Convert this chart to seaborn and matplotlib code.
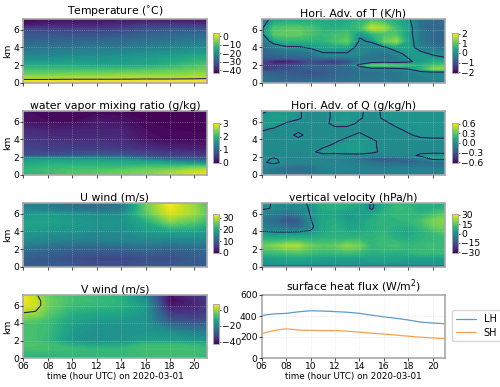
import matplotlib
matplotlib.use('Agg')
import matplotlib.pyplot as plt
from matplotlib.cm import ScalarMappable
from matplotlib.colors import Normalize
import numpy as np
import pandas as pd
import seaborn as sns

sns.set_style('ticks', {'text.color': 'black', 'axes.labelcolor': 'black',
                        'xtick.color': 'black', 'ytick.color': 'black'})
plt.rcParams['font.family'] = ['DejaVu Sans']

# hours for the coarse panels
hours_9 = [6, 8, 10, 12, 14, 16, 18, 20, 21]
hours_10 = [6, 7, 8, 10, 12, 14, 16, 18, 20, 21]
hours_16 = list(range(6, 22))

# temperature (deg C), one row per height
temp_z = [0, 0.35, 0.5, 1, 1.5, 2, 3, 4, 5, 6, 6.5, 7.2]
temp_vals = [
    [4, 4, 4, 4, 4, 4, 4, 4, 4],
    [1, 1, 1, 1, 1, 2, 2, 2, 2],
    [-2, -2, -1, -1, -1, -1, -1, -0.5, 0],
    [-7, -7, -6, -6, -5, -5, -5, -4, -4],
    [-10, -10, -10, -10, -10, -9, -8, -7, -6],
    [-15, -15, -15, -16, -16, -15, -13, -10, -9],
    [-21, -21, -20, -20, -19, -18, -17, -15, -15],
    [-26, -25, -25, -24, -24, -23, -22, -21, -20],
    [-29, -29, -29, -29, -28, -27, -26, -25, -25],
    [-33, -33, -34, -34, -33, -31, -30, -30, -31],
    [-40, -38, -38, -38, -37, -35, -35, -35, -36],
    [-43, -42, -42, -42, -41, -41, -41, -42, -42],
]

# water vapor mixing ratio (g/kg)
qv_z = [0, 0.5, 1, 1.5, 1.9, 2.2, 3, 4, 5, 6, 7.2]
qv_vals = [
    [1.9, 2.1, 2.2, 2.3, 2.4, 2.5, 2.7, 2.9, 3.0],
    [2.0, 2.1, 2.2, 2.2, 2.3, 2.4, 2.5, 2.7, 2.8],
    [1.9, 2.0, 2.0, 2.0, 2.0, 2.1, 2.1, 2.2, 2.2],
    [1.75, 1.8, 1.8, 1.8, 1.8, 1.75, 1.55, 1.3, 1.2],
    [1.5, 1.55, 1.55, 1.5, 1.4, 1.05, 0.8, 0.75, 0.75],
    [0.75, 0.75, 0.8, 0.85, 0.8, 0.7, 0.6, 0.55, 0.5],
    [0.6, 0.55, 0.55, 0.55, 0.5, 0.4, 0.3, 0.25, 0.25],
    [0.5, 0.45, 0.4, 0.4, 0.35, 0.15, 0.08, 0.08, 0.08],
    [0.4, 0.3, 0.3, 0.3, 0.3, 0.1, 0.05, 0.04, 0.04],
    [0.15, 0.1, 0.08, 0.2, 0.15, 0.05, 0.03, 0.02, 0.02],
    [0.1, 0.05, 0.05, 0.05, 0.04, 0.03, 0.02, 0.02, 0.02],
]

# U wind (m/s)
u_z = [0, 1, 2, 3, 4, 5, 6, 6.5, 7.2]
u_vals = [
    [9, 9, 9, 8, 8, 9, 9, 9, 10],
    [10, 9, 8, 7, 7, 8, 8, 9, 10],
    [12, 11, 10, 10, 10, 11, 10, 11, 11],
    [16, 15, 14, 14, 15, 15, 15, 15, 15],
    [18, 17, 17, 16, 16, 18, 19, 19, 18],
    [19, 19, 18, 17, 17, 20, 26, 24, 22],
    [17, 18, 17, 16, 16, 24, 31, 28, 25],
    [15, 14, 13, 12, 13, 25, 32, 28, 25],
    [14, 13, 12, 11, 13, 25, 33, 27, 24],
]

# V wind (m/s)
v_z = [0, 1, 1.5, 2, 3, 4, 5, 6, 6.5, 7.2]
v_vals = [
    [-12, -12, -12, -11, -10, -10, -9, -9, -9, -10],
    [-8, -8, -8, -9, -10, -10, -8, -8, -8, -9],
    [-7, -7, -8, -12, -14, -13, -9, -9, -10, -11],
    [-8, -8, -10, -17, -18, -17, -15, -15, -16, -17],
    [-8, -8, -9, -16, -18, -18, -17, -19, -22, -22],
    [-8, -8, -9, -15, -17, -17, -18, -28, -30, -29],
    [-1, -1.5, -6, -12, -14, -14, -17, -34, -35, -34],
    [5, 3, -4, -9, -10, -11, -16, -40, -38, -35],
    [6, 3, -4, -8, -9, -11, -18, -42, -38, -35],
    [6, 1, -5, -8, -10, -11, -22, -41, -36, -34],
]

# horizontal advection of T (K/h)
advt_z = [0, 1.2, 1.6, 2, 2.4, 2.8, 3.3, 4, 4.7, 5.5, 6.2, 7.2]
advt_vals = [
    [-0.4, -0.5, -0.6, -0.6, -0.6, -0.6, -0.5, -0.5, -0.4, -0.4, -0.4, -0.4, -0.3, -0.3, -0.3, -0.3],
    [-0.8, -0.9, -0.9, -1.0, -1.1, -1.0, -0.8, -0.7, -0.6, -0.6, -0.5, -0.5, -0.3, -0.2, -0.1, -0.1],
    [-1.4, -1.3, -1.1, -0.9, -0.8, -0.8, -0.7, -0.6, -0.4, -0.2, -0.2, -0.1, 0.02, 0.6, 1.3, 1.4],
    [-1.3, -1.3, -1.2, -1.1, -0.9, -1.0, -1.0, -0.7, 0.2, 1.0, 1.0, 0.9, 0.7, 0.5, 0.8, 0.9],
    [-1.3, -1.9, -2.0, -1.7, -1.2, -1.4, -1.5, -1.2, -0.6, -0.3, -0.2, -0.25, -0.1, 0.2, 0.5, 0.5],
    [-0.9, -0.9, -0.9, -0.8, -0.7, -0.6, -0.6, -0.5, -0.4, -0.5, -0.6, -0.5, 0.0, 0.2, 0.2, 0.05],
    [-0.8, -0.7, -0.6, -0.6, -0.5, -0.05, -0.05, -0.05, -0.1, -0.4, -0.5, -0.2, 0.2, 0.2, -0.1, -0.2],
    [-0.7, -0.4, -0.1, -0.1, 0.1, 0.25, 0.3, 0.3, -0.2, -0.2, -0.1, 0.3, 0.3, -0.3, -0.5, -0.6],
    [-0.5, 0.3, 0.6, 0.6, 0.6, 0.6, 0.9, 1.1, -0.05, 0.05, 1.1, 1.4, 0.3, -0.4, -0.7, -0.8],
    [-0.1, 1.0, 1.1, 1.1, 0.9, 0.7, 0.8, 0.9, 0.05, 0.6, 0.9, 0.9, 0.2, -0.4, -0.7, -0.8],
    [-0.1, 0.9, 1.0, 1.0, 0.9, 0.6, 0.5, 0.6, 0.8, 1.7, 1.5, 0.8, 0.3, -0.6, -0.7, -0.7],
    [-0.3, 0.2, 0.3, 0.3, 0.4, 0.4, 0.4, 0.4, 0.6, 0.8, 0.6, 0.4, 0.1, -0.6, -0.7, -0.7],
]

# horizontal advection of Q (g/kg/h)
advq_z = [0, 0.7, 1.4, 1.8, 2.2, 2.6, 3.2, 3.8, 4.5, 5.2, 5.8, 6.4, 7.2]
advq_vals = [
    [-0.1, -0.12, -0.14, -0.14, -0.12, -0.1, -0.08, -0.08, -0.08, -0.08, -0.08, -0.08, -0.08, -0.08, -0.08, -0.08],
    [-0.08, -0.13, -0.18, -0.2, -0.2, -0.1, -0.06, -0.06, -0.07, -0.08, -0.08, -0.08, -0.08, -0.08, -0.08, -0.08],
    [-0.02, 0.03, -0.04, -0.06, -0.06, -0.05, -0.06, -0.08, -0.12, -0.16, -0.2, -0.22, -0.22, -0.2, -0.2, -0.2],
    [-0.04, 0.02, -0.05, -0.05, -0.05, -0.05, -0.06, -0.08, -0.18, -0.28, -0.3, -0.28, -0.2, -0.12, 0.03, 0.04],
    [-0.04, -0.04, -0.04, -0.04, -0.04, -0.03, -0.05, -0.04, -0.04, -0.06, -0.06, -0.05, -0.05, 0.03, 0.05, 0.04],
    [-0.03, -0.03, -0.03, -0.03, -0.02, 0.03, 0.04, 0.05, 0.06, 0.03, -0.03, -0.03, -0.03, -0.03, -0.03, -0.03],
    [-0.03, -0.03, -0.03, -0.03, -0.02, -0.01, 0.02, 0.06, 0.07, 0.02, -0.03, -0.03, -0.03, -0.03, -0.03, -0.03],
    [-0.03, -0.03, -0.03, -0.03, -0.03, -0.02, -0.01, 0.03, 0.05, 0.02, -0.03, -0.03, -0.03, -0.03, -0.02, -0.02],
    [-0.03, -0.03, -0.03, 0.02, -0.03, -0.03, -0.03, -0.02, 0.02, -0.03, -0.03, -0.03, -0.01, 0.02, 0.02, 0.02],
    [0.02, -0.01, -0.02, -0.03, -0.03, -0.03, -0.02, -0.03, -0.03, -0.03, -0.03, -0.01, 0.02, 0.03, 0.03, 0.03],
    [0.06, 0.07, -0.01, -0.03, -0.03, -0.03, 0.03, 0.04, -0.02, -0.03, -0.02, 0.02, 0.03, 0.03, 0.03, 0.03],
    [0.05, 0.07, 0.06, 0.01, -0.03, -0.03, 0.02, 0.04, 0.01, -0.03, 0.01, 0.03, 0.03, 0.03, 0.03, 0.03],
    [-0.03, 0.03, 0.03, 0.01, -0.03, -0.03, 0.02, 0.03, 0.01, -0.02, 0.01, 0.03, 0.03, 0.03, 0.03, 0.03],
]

# vertical velocity (hPa/h)
omega_z = [0, 0.15, 1, 1.6, 2.4, 3.2, 3.9, 4.5, 5.2, 6, 6.6, 7.2]
omega_vals = [
    [-1.5, -1.5, -1.5, -1.5, -1.5, -1.5, -1.5, -1, -1, -1, -1, -1, -1, -1, -1, -1],
    [1, 1, 1, 1, 1, 1, 1, 1, 1, 1, 1, 1, 1, 1, 1, 1],
    [3, 4, 5, 6, 5, 4, 4, 4, 4, 5, 5, 5, 4, 4, 4, 4],
    [11, 11, 13, 14, 12, 10, 11, 12, 11, 8, 9, 8, 9, 11, 11, 11],
    [17, 19, 23, 23, 17, 15, 16, 20, 18, 10, 11, 13, 10, 11, 12, 10],
    [8, 7, 8, 9, 8, 9, 9, 9, 10, 9, 11, 8, 7, 9, 10, 11],
    [1, 0.5, 0.5, 1, 1, 6, 8, 7, 7, 8, 9, 6, 4, 8, 11, 14],
    [-4, -6, -9, -10, -2, 6, 8, 5, 5, 8, 9, 8, 7, 11, 16, 18],
    [-6, -10, -16, -13, -0.5, 6, 7, 3, 4, 8, 9, 9, 10, 13, 18, 20],
    [-3, -6, -9, -6, 0.5, 5, 5, 2, 4, 4, 9, 10, 10, 9, 12, 15],
    [1, -0.5, -3, -2, 0.5, 7, 8, 6, 5, -1, 7, 11, 10, 7, 8, 9],
    [3, -1, -2, -1, 0.5, 7, 9, 7, 6, -1, 6, 10, 9, 8, 8, 8],
]

# surface heat flux (W/m2)
lh_flux = [405, 420, 425, 440, 450, 447, 442, 436, 425, 408, 392, 378, 362, 342, 333, 326]
sh_flux = [232, 262, 278, 266, 263, 261, 261, 256, 246, 236, 228, 218, 208, 198, 191, 186]

time_ticks = [6, 8, 10, 12, 14, 16, 18, 20]
time_labels = ['06', '08', '10', '12', '14', '16', '18', '20']

W, H = 500, 387
fig = plt.figure(figsize=(5, 3.87), dpi=100)
cmap = sns.color_palette('viridis', as_cmap=True)
edge = '#a8a8a8'
tick_fs = 6.6


def px_axes(x0, y0, x1, y1):
    return fig.add_axes([x0 / W, 1 - y1 / H, (x1 - x0) / W, (y1 - y0) / H])


def style(ax, title, bottom=False):
    ax.set_xlim(6, 21)
    ax.set_xticks(time_ticks)
    ax.grid(True, ls=':', lw=0.5, color='lightgray', alpha=0.6)
    ax.set_axisbelow(False)
    for s in ax.spines.values():
        s.set_color(edge)
        s.set_linewidth(1.2)
    ax.tick_params(labelsize=tick_fs, length=2, width=0.5, pad=1, color='black')
    ax.set_title(title, fontsize=7.8, pad=1.5)
    if bottom:
        ax.set_xticklabels(time_labels)
        ax.set_xlabel('time (hour UTC) on 2020-03-01', fontsize=6.3, labelpad=0.5)
    else:
        ax.set_xticklabels([])


def field(box, cbox, hrs, z, vals, vmin, vmax, ticks, title, ylabel=False, bottom=False, line=True):
    ax = px_axes(*box)
    levels = np.linspace(vmin, vmax, 64)
    ax.contourf(hrs, z, np.array(vals), levels=levels, cmap=cmap, extend='both')
    if line:
        ax.contour(hrs, z, np.array(vals), levels=[0], colors='#2a1a5e', linewidths=0.8)
    ax.set_ylim(0, 7.2)
    ax.set_yticks([0, 2, 4, 6])
    style(ax, title, bottom)
    if ylabel:
        ax.set_ylabel('km', fontsize=tick_fs, labelpad=0.5)
    cax = px_axes(*cbox)
    sm = ScalarMappable(norm=Normalize(vmin, vmax), cmap=cmap)
    cb = fig.colorbar(sm, cax=cax, ticks=ticks)
    cb.ax.tick_params(labelsize=tick_fs, length=1.5, width=0.4, pad=1)
    cb.outline.set_edgecolor(edge)
    cb.outline.set_linewidth(0.7)
    return ax


lx = (23.3, 206.7)
rx = (261.7, 445)
rows = [(19, 83), (111, 175), (203, 267), (295, 358)]
cb_rows = [(33, 73), (123, 163), (214, 253), (304, 344)]
lc = (213, 219)
rc = (452, 458)

field((lx[0], rows[0][0], lx[1], rows[0][1]), (lc[0], cb_rows[0][0], lc[1], cb_rows[0][1]),
      hours_9, temp_z, temp_vals, -43, 4, [0, -10, -20, -30, -40], 'Temperature ($^{\\circ}$C)', ylabel=True)
field((lx[0], rows[1][0], lx[1], rows[1][1]), (lc[0], cb_rows[1][0], lc[1], cb_rows[1][1]),
      hours_9, qv_z, qv_vals, 0, 3.05, [0, 1, 2, 3], 'water vapor mixing ratio (g/kg)', ylabel=True, line=False)
field((lx[0], rows[2][0], lx[1], rows[2][1]), (lc[0], cb_rows[2][0], lc[1], cb_rows[2][1]),
      hours_9, u_z, u_vals, 0, 33, [0, 10, 20, 30], 'U wind (m/s)', ylabel=True, line=False)
field((lx[0], rows[3][0], lx[1], rows[3][1]), (lc[0], cb_rows[3][0], lc[1], cb_rows[3][1]),
      hours_10, v_z, v_vals, -43, 7, [0, -20, -40], 'V wind (m/s)', ylabel=True, bottom=True)

field((rx[0], rows[0][0], rx[1], rows[0][1]), (rc[0], cb_rows[0][0], rc[1], cb_rows[0][1]),
      hours_16, advt_z, advt_vals, -2.1, 2.1, [-2, -1, 0, 1, 2], 'Hori. Adv. of T (K/h)')
field((rx[0], rows[1][0], rx[1], rows[1][1]), (rc[0], cb_rows[1][0], rc[1], cb_rows[1][1]),
      hours_16, advq_z, advq_vals, -0.63, 0.63, [-0.6, -0.3, 0, 0.3, 0.6], 'Hori. Adv. of Q (g/kg/h)')
field((rx[0], rows[2][0], rx[1], rows[2][1]), (rc[0], cb_rows[2][0], rc[1], cb_rows[2][1]),
      hours_16, omega_z, omega_vals, -31, 31, [-30, -15, 0, 15, 30], 'vertical velocity (hPa/h)')

# surface flux panel
flux = pd.DataFrame({'hour': hours_16, 'LH': lh_flux, 'SH': sh_flux}).melt('hour', var_name='kind', value_name='flux')
ax = px_axes(rx[0], rows[3][0], rx[1], rows[3][1])
sns.lineplot(data=flux, x='hour', y='flux', hue='kind', palette=['#5b9bc8', '#f5a04e'], lw=0.9, ax=ax)
ax.set_ylim(0, 600)
ax.set_yticks([0, 200, 400, 600])
ax.set_ylabel('')
ax.set_xlabel('')
style(ax, 'surface heat flux (W/m$^2$)', bottom=True)
ax.grid(True, ls=':', lw=0.5, color='#c8c8c8')
ax.legend(title=None, loc='center left', bbox_to_anchor=(1.03, 0.51), fontsize=7, frameon=True,
          handlelength=2.0, borderaxespad=0.2, labelspacing=0.35, handletextpad=0.8, borderpad=0.4)

plt.savefig('out.png', dpi=100)
